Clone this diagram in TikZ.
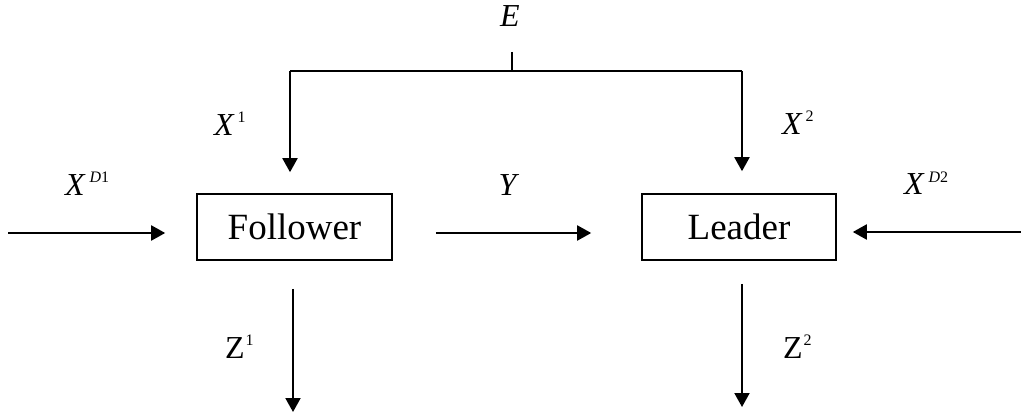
\documentclass[tikz,border=0pt]{standalone}
\usepackage{fontspec}
\setmainfont{Liberation Serif}
\usetikzlibrary{arrows.meta}
\newcommand\symsup[3]{\textit{#1}\kern#3\raisebox{13pt}{\fontsize{16}{16}\selectfont #2}}
\begin{document}
\begin{tikzpicture}[x=1pt,y=-1pt,line width=2pt,
  arr/.style={-{Triangle[length=14pt,width=15pt]}},
  box/.style={draw,line width=1.6pt,minimum width=195pt,minimum height=66pt,inner sep=0pt,font=\fontsize{37}{37}\selectfont},
  lab/.style={font=\fontsize{32}{32}\selectfont,inner sep=0pt}]
\useasboundingbox (0,0) rectangle (1021,417);
% boxes
\node[box] (F) at (294.5,227) {Follower};
\node[box,minimum width=194pt] (L) at (739,227) {Leader};
% free ends
\coordinate (tick) at (512,52);
\coordinate (bar) at (512,71);
\coordinate (barL) at (290,71);
\coordinate (barR) at (742,71);
\coordinate (inL) at (8,233);
\coordinate (inR) at (1021,232);
\coordinate (zL) at (293,412);
\coordinate (zR) at (742,407);
% top distribution
\draw (tick) -- (bar);
\draw (barL) -- (barR);
\draw[arr,shorten >=21pt] (barL) -- (barL |- F.north);
\draw[arr,shorten >=22pt] (barR) -- (barR |- L.north);
% side inputs
\draw[arr,shorten >=31pt] (inL) -- (inL -| F.west);
\draw[arr,shorten >=16pt] (inR) -- (inR -| L.east);
% Y
\draw[arr,shorten <=43pt,shorten >=50pt] (F.east |- inL) -- (L.west |- inL);
% outputs
\draw[arr,shorten <=28pt] (zL |- F.south) -- (zL);
\draw[arr,shorten <=23pt] (zR |- L.south) -- (zR);
% labels
\node[lab,anchor=base] (E) at (510,27) {\textit{E}};
\node[lab,anchor=base west] (X1) at (213,136) {\symsup{X}{1}{3pt}};
\node[lab,anchor=base west] (X2) at (781,135) {\symsup{X}{2}{3pt}};
\node[lab,anchor=base west] (XD1) at (64,196) {\symsup{X}{\textit{D}1}{4pt}};
\node[lab,anchor=base west] (XD2) at (903,195) {\symsup{X}{\textit{D}2}{4pt}};
\node[lab,anchor=base] (Y) at (509,196) {\textit{Y}};
\node[lab,anchor=base west] (Z1) at (224,358) {Z\kern1pt\raisebox{13pt}{\fontsize{16}{16}\selectfont 1}};
\node[lab,anchor=base west] (Z2) at (782,358) {Z\kern1pt\raisebox{13pt}{\fontsize{16}{16}\selectfont 2}};
\end{tikzpicture}
\end{document}
